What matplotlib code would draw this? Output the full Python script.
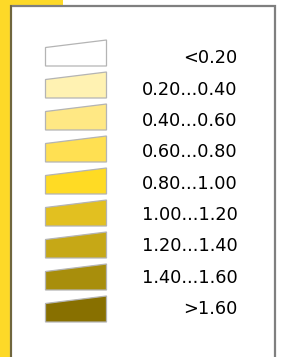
import matplotlib
matplotlib.use("Agg")
import matplotlib.pyplot as plt
from matplotlib.patches import Rectangle, Polygon

# legend classes
labels = ["<0.20", "0.20...0.40", "0.40...0.60", "0.60...0.80", "0.80...1.00",
          "1.00...1.20", "1.20...1.40", "1.40...1.60", ">1.60"]
colors = ["#ffffff", "#fff2b2", "#ffe884", "#ffe052", "#ffdb24",
          "#e2c020", "#c6a816", "#a88e0c", "#887000"]

W, H = 284, 357
fig = plt.figure(figsize=(W / 100, H / 100), dpi=100)
ax = fig.add_axes([0, 0, 1, 1])
ax.set_xlim(0, W)
ax.set_ylim(H, 0)
ax.axis("off")

# yellow tab behind the panel
ax.add_patch(Rectangle((0, 0), 10.5, H, facecolor="#fdd928", edgecolor="none"))
ax.add_patch(Rectangle((0, 0), 63, 5.5, facecolor="#fdd928", edgecolor="none"))

# panel
ax.add_patch(Rectangle((10.5, 5.5), 264, H, facecolor="white",
                       edgecolor="#7f7f7f", lw=1.6))
ax.plot([10.8, 10.8], [5.5, H], color="#6e6230", lw=1.2)

for i, (lab, c) in enumerate(zip(labels, colors)):
    y0 = 32.0 * i
    ax.add_patch(Polygon([(45.5, 47.5 + y0), (106.5, 40 + y0),
                          (106.5, 66 + y0), (45.5, 66 + y0)],
                         closed=True, facecolor=c, edgecolor="#b4b4b4", lw=0.9))
    ax.text(237.5, 63.3 + 31.35 * i, lab, ha="right", va="baseline",
            fontsize=12.8, color="black", family="DejaVu Sans")

fig.savefig("out.png", dpi=100)
